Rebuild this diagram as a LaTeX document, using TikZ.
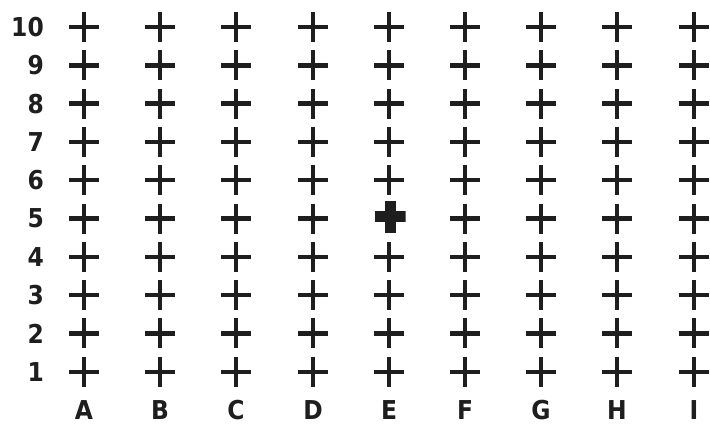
\documentclass[tikz,border=0pt]{standalone}
\usepackage{fontspec}
\setsansfont{DejaVu Sans Condensed}
\definecolor{ink}{HTML}{1E1E1E}
\tikzset{
  gridplus/.style={minimum size=30pt, inner sep=0pt,
    path picture={\draw[line width=4.4pt, ink]
      (path picture bounding box.west) -- (path picture bounding box.east)
      (path picture bounding box.north) -- (path picture bounding box.south);}},
  boldplus/.style={minimum width=31pt, minimum height=32pt, inner sep=0pt,
    path picture={\draw[line width=11pt, ink]
      (path picture bounding box.west) -- (path picture bounding box.east)
      (path picture bounding box.north) -- (path picture bounding box.south);}},
  rowlabel/.style={anchor=east, inner sep=0pt, text=ink,
    font=\sffamily\bfseries\fontsize{26}{26}\selectfont},
  collabel/.style={anchor=center, inner sep=0pt, text=ink,
    font=\sffamily\bfseries\fontsize{26}{26}\selectfont},
}
\begin{document}
\begin{tikzpicture}[x=1pt,y=-1pt]
\useasboundingbox[fill=white] (0,0) rectangle (710,426);
\foreach \c/\xx [count=\i] in {A/84,B/160,C/236,D/313,E/389,F/465,G/541,H/617,I/694}{
  \foreach \r in {1,...,10}{
    \pgfmathsetmacro{\yy}{27+(10-\r)*38.3}
    \ifnum\i=5 \ifnum\r=5
      \node[boldplus] (p\c\r) at (\xx+1,\yy-2) {};
    \else
      \node[gridplus] (p\c\r) at (\xx,\yy) {};
    \fi
    \else
      \node[gridplus] (p\c\r) at (\xx,\yy) {};
    \fi
  }
  \node[collabel] (l\c) at (\xx,410) {\c};
}
\foreach \r in {1,...,10}{
  \pgfmathsetmacro{\yy}{27+(10-\r)*38.3}
  \node[rowlabel] (r\r) at (44,\yy) {\r};
}
\end{tikzpicture}
\end{document}
